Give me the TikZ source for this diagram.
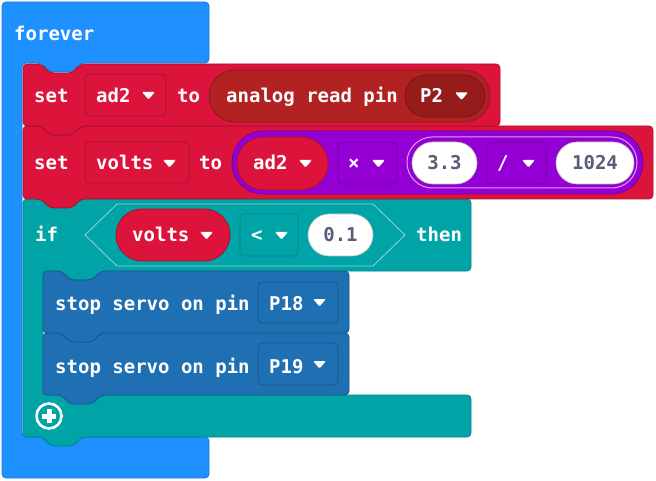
\documentclass[tikz,border=0pt]{standalone}
\usepackage{fontspec}
\newfontfamily\blkfont{DejaVu Sans Mono}
\usetikzlibrary{calc}
\definecolor{foreverC}{HTML}{1E90FF}
\definecolor{foreverB}{HTML}{1A78D6}
\definecolor{setC}{HTML}{DC143C}
\definecolor{setB}{HTML}{A8102E}
\definecolor{analogC}{HTML}{B22222}
\definecolor{analogB}{HTML}{8C1A1A}
\definecolor{pinC}{HTML}{961B1B}
\definecolor{pinB}{HTML}{7A1515}
\definecolor{mathC}{HTML}{9400D3}
\definecolor{mathB}{HTML}{7000A3}
\definecolor{mathL}{HTML}{D6A3F2}
\definecolor{logicC}{HTML}{00A4A6}
\definecolor{logicB}{HTML}{008486}
\definecolor{logicL}{HTML}{8ED6D7}
\definecolor{servoC}{HTML}{1F6FB3}
\definecolor{servoB}{HTML}{17578D}
\definecolor{pillgray}{HTML}{575E75}
\tikzset{
  lbl/.style={anchor=base west, inner sep=0pt, text=white, font=\blkfont\bfseries\fontsize{19}{19}\selectfont},
  glbl/.style={anchor=base, inner sep=0pt, text=pillgray, font=\blkfont\bfseries\fontsize{19}{19}\selectfont},
  foreverblk/.style={fill=foreverC, draw=foreverB, line width=0.8pt},
  setblk/.style={fill=setC, draw=setB, line width=0.8pt},
  logicblk/.style={fill=logicC, draw=logicB, line width=0.8pt},
  servoblk/.style={fill=servoC, draw=servoB, line width=0.8pt},
  ddbox/.style={rounded corners=4pt, line width=0.8pt},
  whitepill/.style={fill=white, draw=black!25, line width=0.6pt},
}
% statement block: top-left (#2,#3), bottom-right (#4,#5)
\newcommand\stmtblock[5]{%
  \path[#1, rounded corners=4pt] (#2,#3) -- ([xshift=18pt]#2,#3) -- ++(9,9) -- ++(22,0) -- ++(9,-9)
    -- (#4,#3) -- (#4,#5) -- ([xshift=58pt]#2,#5) -- ++(-9,9) -- ++(-22,0) -- ++(-9,-9)
    -- (#2,#5) -- cycle;}
\newcommand\ddarr[2]{\fill[white, rounded corners=1.2pt] (#1,#2) -- ++(13,0) -- ++(-6.5,7.5) -- cycle;}
\begin{document}
\begin{tikzpicture}[x=1pt,y=-1pt]
\useasboundingbox (0,0) rectangle (656,481);
% ---------- forever ----------
\path[foreverblk, rounded corners=4pt] (2,2) -- (209,2) -- (209,63) -- (81,63) -- (72,72) -- (50,72) -- (41,63)
  -- (22,63) -- (22,437) -- (209,437) -- (209,478) -- (2,478) -- cycle;
\node[lbl] (forever) at (14,41) {forever};
% ---------- if block ----------
\path[logicblk, rounded corners=4pt] (23,199) -- (471,199) -- (471,271) -- (102,271) -- (93,280) -- (71,280) -- (62,271)
  -- (43,271) -- (43,395) -- (471,395) -- (471,437) -- (82,437) -- (73,446) -- (51,446) -- (42,437)
  -- (23,437) -- cycle;
\node[lbl] (if) at (35,242) {if};
\path[fill=logicC, draw=logicL, line width=0.8pt] (85,235) -- (117,204) -- (373,204) -- (405,235) -- (373,266) -- (117,266) -- cycle;
\path[fill=setC, draw=setB, line width=0.8pt, rounded corners=25.9pt] (116,209) rectangle (230,261);
\node[lbl] (volts2) at (132,242) {volts};
\ddarr{200}{232}
\path[ddbox, fill=logicC, draw=logicB] (240,214) rectangle (298,256);
\node[lbl] (lt) at (251,242) {<};
\ddarr{275}{232}
\path[whitepill, rounded corners=20.9pt] (308,214) rectangle (373,256);
\node[glbl] (c01) at (340.5,242) {0.1};
\node[lbl] (then) at (416,242) {then};
% plus icon
\draw[white, line width=2.6pt] (49,416) circle (12.5pt);
\draw[white, line width=5pt] (42,416) -- (56,416) (49,409) -- (49,423);
% ---------- servo blocks ----------
\stmtblock{servoblk}{43}{333}{349}{395}
\node[lbl] (stop2) at (55,373) {stop servo on pin};
\path[ddbox, fill=servoC, draw=servoB] (258,343) rectangle (338,385);
\node[lbl] (p19) at (269,373) {P19};
\ddarr{313}{361}
\stmtblock{servoblk}{43}{271}{349}{333}
\node[lbl] (stop1) at (55,310) {stop servo on pin};
\path[ddbox, fill=servoC, draw=servoB] (258,282) rectangle (338,323);
\node[lbl] (p18) at (269,310) {P18};
\ddarr{313}{299}
% ---------- set volts ----------
\stmtblock{setblk}{23}{126}{653}{199}
\node[lbl] (set2) at (34,170) {set};
\path[ddbox, fill=setC, draw=setB] (85,142) rectangle (189,183);
\node[lbl] (volts) at (96,170) {volts};
\ddarr{163}{160}
\node[lbl] (to2) at (199,170) {to};
\path[fill=mathC, draw=mathB, line width=0.8pt, rounded corners=31.4pt] (232,131) rectangle (643,194);
\path[fill=setC, draw=setB, line width=0.8pt, rounded corners=26.4pt] (237,137) rectangle (328,190);
\node[lbl] (ad2b) at (253,170) {ad2};
\ddarr{299}{160}
\path[ddbox, fill=mathC, draw=mathB] (338,142) rectangle (397,184);
\node[lbl] (times) at (348,170) {×};
\ddarr{372}{160}
\path[fill=mathC, draw=mathL, line width=1pt, rounded corners=25.4pt] (407,137) rectangle (637,188);
\path[whitepill, rounded corners=20.9pt] (412,142) rectangle (477,184);
\node[glbl] (c33) at (444.5,170) {3.3};
\path[ddbox, fill=mathC, draw=mathB] (487,142) rectangle (546,184);
\node[lbl] (div) at (497,170) {/};
\ddarr{522}{160}
\path[whitepill, rounded corners=20.9pt] (556,142) rectangle (634,184);
\node[glbl] (c1024) at (595,170) {1024};
% ---------- set ad2 ----------
\stmtblock{setblk}{23}{64}{500}{126}
\node[lbl] (set1) at (34,103) {set};
\path[ddbox, fill=setC, draw=setB] (85,74) rectangle (166,116);
\node[lbl] (ad2) at (96,103) {ad2};
\ddarr{142}{92}
\node[lbl] (to1) at (177,103) {to};
\path[fill=analogC, draw=analogB, line width=0.8pt, rounded corners=25.9pt] (209,70) rectangle (490,122);
\node[lbl] (analog) at (226,103) {analog read pin};
\path[fill=pinC, draw=pinB, line width=0.8pt, rounded corners=20.9pt] (405,75) rectangle (485,117);
\node[lbl] (p2) at (420,103) {P2};
\ddarr{455}{92.5}
\end{tikzpicture}
\end{document}
